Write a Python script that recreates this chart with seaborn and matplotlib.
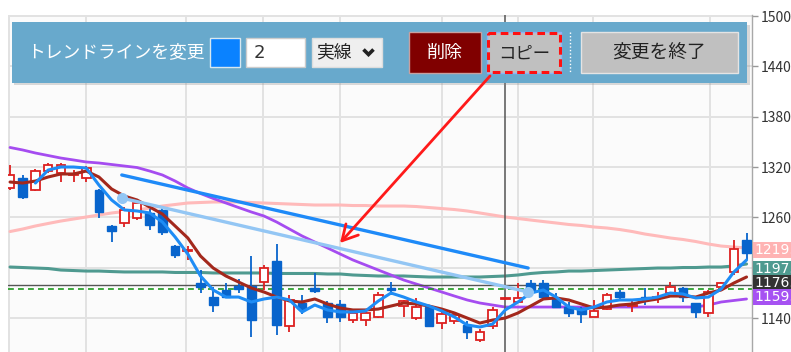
import numpy as np
import pandas as pd
import matplotlib
matplotlib.use("Agg")
import matplotlib.pyplot as plt
import matplotlib.transforms as mtransforms
from matplotlib.patches import Rectangle
import seaborn as sns

sns.set_style("white")
plt.rcParams['font.family'] = ['Noto Sans CJK JP', 'DejaVu Sans']

# ---------------- data ----------------
opens = [1295.0, 1306.9, 1292.6, 1315.2, 1313.0, 1310.5, 1306.9, 1292.6, 1249.7, 1253.3,
         1259.2, 1265.2, 1268.8, 1225.8, 1219.9, 1181.7, 1165.0, 1173.4, 1178.2, 1178.2,
         1182.9, 1208.0, 1130.5, 1157.9, 1175.8, 1157.9, 1156.7, 1137.6, 1137.6, 1141.2,
         1175.8, 1154.3, 1140.0, 1153.1, 1134.0, 1136.4, 1131.7, 1113.8, 1130.5, 1162.7,
         1159.1, 1181.7, 1181.7, 1163.8, 1153.1, 1151.9, 1141.2, 1150.7, 1171.0, 1154.3,
         1165.0, 1163.9, 1169.8, 1175.8, 1157.9, 1146.0, 1177.0, 1194.8, 1233.0]
highs = [1322.4, 1310.5, 1317.6, 1324.8, 1324.8, 1316.4, 1321.2, 1293.8, 1250.9, 1272.3,
         1280.7, 1270.0, 1271.1, 1227.0, 1225.8, 1197.2, 1177.0, 1181.7, 1186.5, 1213.9,
         1203.2, 1228.2, 1167.4, 1167.4, 1193.7, 1160.3, 1161.5, 1147.2, 1147.2, 1171.0,
         1182.9, 1161.5, 1163.8, 1155.5, 1149.5, 1147.2, 1136.4, 1126.9, 1153.1, 1164.5,
         1181.7, 1185.3, 1185.3, 1169.8, 1159.1, 1153.1, 1161.5, 1169.8, 1173.4, 1161.5,
         1175.8, 1171.0, 1182.9, 1177.0, 1157.9, 1173.4, 1182.9, 1233.0, 1241.3]
lows = [1292.6, 1281.9, 1291.4, 1312.9, 1302.0, 1302.0, 1302.0, 1259.2, 1230.6, 1248.5,
        1256.8, 1244.9, 1238.9, 1211.5, 1209.1, 1169.8, 1147.2, 1163.8, 1169.8, 1117.4,
        1173.4, 1119.8, 1123.3, 1144.8, 1169.8, 1134.0, 1135.2, 1134.0, 1130.5, 1140.0,
        1167.4, 1141.2, 1137.6, 1129.3, 1126.9, 1132.8, 1115.0, 1111.4, 1126.9, 1162.0,
        1159.1, 1172.2, 1163.8, 1153.1, 1141.2, 1134.0, 1141.2, 1149.5, 1161.5, 1147.2,
        1155.5, 1157.9, 1169.8, 1159.1, 1140.0, 1141.2, 1175.8, 1191.3, 1209.1]
closes = [1310.5, 1284.2, 1315.2, 1322.4, 1322.4, 1311.7, 1318.8, 1266.4, 1243.7, 1268.8,
          1277.1, 1250.9, 1242.5, 1215.1, 1221.1, 1177.0, 1155.5, 1165.0, 1174.6, 1137.6,
          1199.6, 1131.7, 1161.5, 1150.7, 1172.2, 1141.2, 1141.2, 1146.0, 1146.0, 1167.4,
          1173.4, 1160.3, 1153.1, 1130.5, 1144.8, 1143.6, 1123.3, 1123.3, 1149.5, 1163.9,
          1163.9, 1173.4, 1165.0, 1153.1, 1146.0, 1144.8, 1148.4, 1167.4, 1165.0, 1155.5,
          1162.7, 1165.0, 1177.0, 1165.0, 1147.2, 1171.0, 1181.7, 1222.3, 1217.5]

ma_blue = [np.nan, np.nan, 1300.9, 1316.4, 1320.0, 1320.0, 1318.8, 1298.5, 1280.7, 1268.8,
           1267.6, 1265.2, 1254.4, 1236.6, 1216.3, 1190.1, 1173.4, 1165.0, 1165.0, 1159.1,
           1162.7, 1165.0, 1161.5, 1147.2, 1155.5, 1149.6, 1147.2, 1147.2, 1148.4, 1160.3,
           1169.8, 1165.0, 1159.1, 1154.3, 1148.4, 1141.2, 1131.7, 1129.3, 1132.8, 1149.6,
           1159.1, 1169.8, 1173.4, 1165.0, 1153.1, 1149.6, 1153.1, 1159.1, 1161.5, 1161.5,
           1162.7, 1165.0, 1169.8, 1168.6, 1163.9, 1165.0, 1174.6, 1194.8, 1209.2]
ma_brown = [1302.1, 1300.9, 1303.3, 1308.1, 1311.7, 1311.7, 1315.2, 1308.1, 1293.8, 1285.4,
            1280.7, 1272.3, 1264.0, 1249.7, 1235.4, 1213.9, 1199.6, 1190.1, 1182.9, 1175.8,
            1171.0, 1165.0, 1160.3, 1159.1, 1162.7, 1156.7, 1151.9, 1149.6, 1149.6, 1150.7,
            1154.3, 1157.9, 1156.7, 1154.3, 1150.7, 1146.0, 1140.0, 1134.0, 1137.6, 1140.0,
            1146.0, 1154.3, 1162.7, 1163.9, 1161.5, 1156.7, 1151.9, 1153.1, 1155.5, 1156.7,
            1160.3, 1162.7, 1166.2, 1166.2, 1165.0, 1169.8, 1173.4, 1181.7, 1188.9]
ma_purple = [1343.3, 1340.3, 1336.7, 1333.7, 1330.7, 1328.4, 1326.0, 1324.8, 1323.0, 1321.2,
             1319.4, 1315.2, 1310.5, 1303.3, 1295.0, 1288.4, 1282.5, 1277.1, 1271.7, 1266.4,
             1261.6, 1254.4, 1246.1, 1237.8, 1230.6, 1223.5, 1216.3, 1209.2, 1203.2, 1197.2,
             1191.3, 1185.3, 1180.5, 1175.8, 1171.0, 1166.2, 1161.5, 1157.9, 1155.5, 1153.1,
             1153.1, 1153.1, 1153.1, 1153.1, 1153.1, 1153.1, 1153.1, 1153.1, 1153.1, 1153.1,
             1153.1, 1153.1, 1153.1, 1153.1, 1153.1, 1155.5, 1159.1, 1160.9, 1162.7]
ma_teal = [1200.8, 1200.2, 1199.6, 1199.0, 1197.2, 1196.6, 1196.0, 1196.0, 1195.4, 1194.9,
           1194.9, 1194.9, 1194.9, 1194.3, 1194.3, 1194.3, 1193.7, 1193.7, 1193.7, 1193.7,
           1193.7, 1193.1, 1193.1, 1193.1, 1193.1, 1192.5, 1192.5, 1191.3, 1190.7, 1190.1,
           1190.1, 1190.1, 1189.5, 1188.9, 1188.9, 1188.9, 1188.9, 1188.9, 1189.5, 1190.1,
           1191.3, 1193.1, 1194.3, 1194.9, 1196.0, 1196.0, 1196.6, 1197.2, 1197.8, 1198.4,
           1199.0, 1199.6, 1199.6, 1200.2, 1200.2, 1200.8, 1200.8, 1202.0, 1204.4]
ma_pink = [1243.1, 1246.1, 1249.7, 1252.7, 1255.6, 1258.0, 1260.4, 1262.8, 1265.2, 1267.0,
           1268.8, 1271.1, 1273.5, 1275.3, 1277.1, 1277.7, 1278.3, 1278.3, 1278.3, 1277.7,
           1277.1, 1276.5, 1275.9, 1275.3, 1274.7, 1274.7, 1274.7, 1274.1, 1274.1, 1273.5,
           1273.5, 1273.5, 1272.9, 1271.7, 1270.5, 1269.3, 1267.6, 1265.2, 1262.8, 1260.4,
           1258.6, 1256.8, 1255.0, 1253.3, 1251.5, 1250.3, 1248.5, 1247.3, 1245.5, 1243.1,
           1240.1, 1237.8, 1235.4, 1233.6, 1231.2, 1228.2, 1225.8, 1224.6, 1223.5]

trend_x = [8.8, 40.8]
trend_main = [1310.5, 1199.6]
trend_copy = [1283.0, 1171.0]

hline_price = 1179.5
dashed_price = 1175.0
cursor_index = 39

y_ticks = [1140, 1200, 1260, 1320, 1380, 1440, 1500]
y_tick_labels = ['1140', '', '1260', '1320', '1380', '1440', '1500']

price_tags = ['1219.2', '1197.8', '1176.5', '1159.4']
price_tag_pos = [1221.0, 1198.4, 1182.0, 1164.8]
price_tag_colors = ['#ffb3b3', '#4f9a90', '#333333', '#a652f2']

panel_title = 'トレンドラインを変更'
width_value = '2'
style_value = '実線'
btn_delete = '削除'
btn_copy = 'コピー'
btn_finish = '変更を終了'

# --------------- figure ---------------
W, H = 791, 352
fig = plt.figure(figsize=(W / 100, H / 100), dpi=100)
fig.patch.set_facecolor('white')
ax = fig.add_axes([8 / W, 0, 744 / W, 337 / H])
ax.set_facecolor('#fbfbfb')
ax.set_xlim(-0.16, 58.43)
ax.set_ylim(1099.5, 1501.2)

# grid
vgrid = [-0.08, 5.98, 13.86, 19.92, 25.98, 34.0, 40.0, 45.9, 55.1]
for gx in vgrid:
    ax.axvline(gx, color='#e2e2e2', lw=1.4, zorder=0)
for gy in y_ticks:
    ax.axhline(gy, color='#e2e2e2', lw=1.4, zorder=0)

idx = np.arange(len(opens))
df = pd.DataFrame({'i': idx, 'blue': ma_blue, 'brown': ma_brown, 'purple': ma_purple,
                   'teal': ma_teal, 'pink': ma_pink})

sns.lineplot(data=df, x='i', y='pink', ax=ax, color='#ffbaba', lw=2.2, zorder=1)
sns.lineplot(data=df, x='i', y='teal', ax=ax, color='#4f9a90', lw=2.2, zorder=1)
sns.lineplot(data=df, x='i', y='purple', ax=ax, color='#a54cf0', lw=2.0, zorder=1)

# reference lines
ax.axhline(hline_price, color='#555555', lw=1.0, zorder=2)
ax.axhline(dashed_price, color='#1f9a1f', lw=1.2, ls=(0, (3.5, 2.5)), zorder=2)
ax.axvline(cursor_index, color='#555555', lw=1.1, zorder=2)

# candles
o = np.array(opens); c = np.array(closes); h = np.array(highs); l = np.array(lows)
up = c >= o
red = '#dd2020'
blue = '#0864cc'
ax.vlines(idx[up], l[up], h[up], color=red, lw=1.3, zorder=3)
ax.vlines(idx[~up], l[~up], h[~up], color=blue, lw=1.3, zorder=3)
body_h = np.maximum(np.abs(c - o), 1.0)
ax.bar(idx[up], body_h[up], bottom=np.minimum(o, c)[up], width=0.68,
       facecolor='white', edgecolor=red, linewidth=1.3, zorder=4)
ax.bar(idx[~up], body_h[~up], bottom=np.minimum(o, c)[~up], width=0.68,
       facecolor=blue, edgecolor=blue, linewidth=1.0, zorder=4)

sns.lineplot(data=df, x='i', y='brown', ax=ax, color='#a3281c', lw=2.2, zorder=5)
sns.lineplot(data=df, x='i', y='blue', ax=ax, color='#1e8cf5', lw=2.2, zorder=5)

# trend lines
tdf = pd.DataFrame({'x': trend_x, 'main': trend_main, 'copy': trend_copy})
sns.lineplot(data=tdf, x='x', y='copy', ax=ax, color='#93c6f4', lw=2.4, zorder=6,
             marker='o', markersize=8, markeredgewidth=0)
sns.lineplot(data=tdf, x='x', y='main', ax=ax, color='#1e8af8', lw=2.4, zorder=6)

# axis styling
ax.set_xlabel(''); ax.set_ylabel('')
ax.set_xticks([])
ax.yaxis.tick_right()
ax.set_yticks(y_ticks)
ax.set_yticklabels(y_tick_labels)
ax.tick_params(axis='y', length=4, width=1, color='#999999', labelsize=10,
               labelcolor='#333333', pad=2)
for s in ['left', 'top', 'bottom']:
    ax.spines[s].set_visible(False)
ax.spines['right'].set_color('#a8a8a8')
ax.spines['right'].set_linewidth(1.0)

# price tags on the right
trans = mtransforms.blended_transform_factory(ax.transAxes, ax.transData)
ax.add_patch(Rectangle((1.002, dashed_price - 10), 0.06, 10, transform=trans,
                       fc='#1f9a1f', ec='none', clip_on=False, zorder=7))
for txt, pos, col in zip(price_tags, price_tag_pos, price_tag_colors):
    ax.text(1.003, pos, txt, transform=trans, fontsize=10, color='white',
            va='center', ha='left', family='DejaVu Sans', clip_on=False, zorder=8,
            bbox=dict(boxstyle='square,pad=0.06', fc=col, ec='none'))

# --------------- overlay panel (pixel coords) ---------------
ov = fig.add_axes([0, 0, 1, 1], zorder=10)
ov.set_xlim(0, W); ov.set_ylim(H, 0)
ov.axis('off')
ov.patch.set_alpha(0)

ov.add_patch(Rectangle((14, 25), 736, 60, fc='#8a8a8a', ec='none', alpha=0.3))
ov.add_patch(Rectangle((12, 22), 735, 61, fc='#68a9cc', ec='none'))
ov.text(27, 52, panel_title, color='white', fontsize=12.8, va='center', ha='left')
ov.add_patch(Rectangle((210, 38), 30, 29, fc='#0a82ff', ec='#d8e8f0', lw=1))
ov.add_patch(Rectangle((246, 38), 59, 29, fc='white', ec='#cccccc', lw=1))
ov.text(254, 53, width_value, color='#333333', fontsize=13, va='center', ha='left',
        family='DejaVu Sans')
ov.add_patch(Rectangle((312, 38), 70, 29, fc='#efefef', ec='#dddddd', lw=1))
ov.text(316, 52, style_value, color='#222222', fontsize=12.8, va='center', ha='left')
ov.plot([363.5, 368.5, 373.5], [49.5, 54.5, 49.5], color='#222222', lw=2.6,
        solid_capstyle='butt', solid_joinstyle='miter')

ov.add_patch(Rectangle((409, 32), 72, 41, fc='#800000', ec='#c8a0a0', lw=1))
ov.text(445, 53, btn_delete, color='white', fontsize=13, va='center', ha='center')

ov.add_patch(Rectangle((487, 32), 74, 41, fc='#c0c0c0', ec='#8ab4f8', lw=1))
ov.add_patch(Rectangle((488, 33), 72, 39, fc='none', ec='#ff1010', lw=2.2,
                       ls=(0, (2.5, 1.5))))
ov.text(524, 54, btn_copy, color='#222222', fontsize=12.5, va='center', ha='center')

ov.plot([570, 570], [32, 73], color='white', lw=1, ls=(0, (1, 1.5)))

ov.add_patch(Rectangle((581, 32), 157, 41, fc='#c0c0c0', ec='#e4e4e4', lw=1))
ov.text(659.5, 53, btn_finish, color='#222222', fontsize=13.5, va='center', ha='center')

# red arrow pointing at the copied trend line
ov.annotate('', xy=(340, 243), xytext=(490, 76),
            arrowprops=dict(arrowstyle='->,head_length=1.1,head_width=0.6',
                            color='#ff1a1a', lw=2.0, shrinkA=0, shrinkB=0))

fig.savefig('out.png', dpi=100)
